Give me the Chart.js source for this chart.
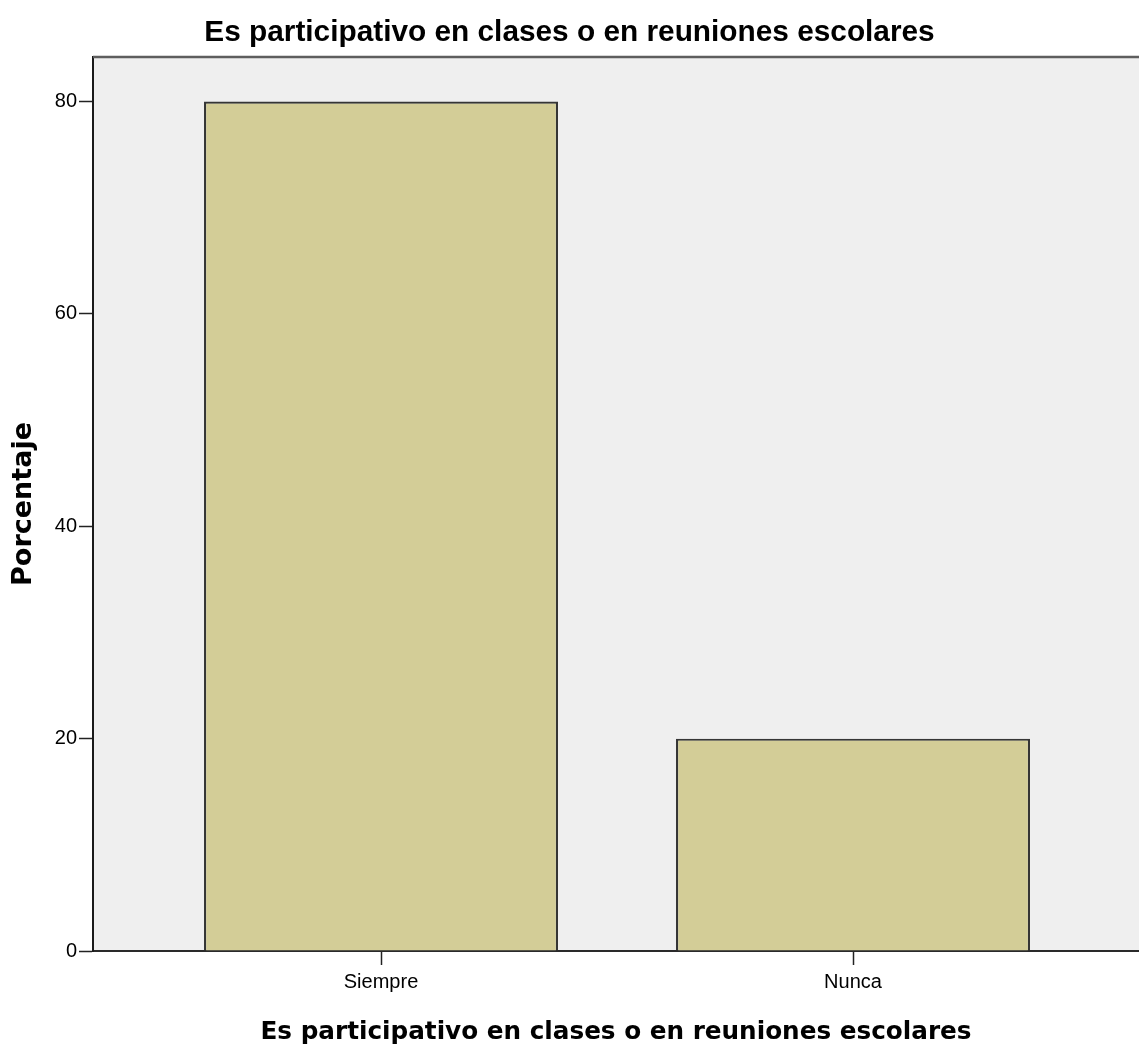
<!DOCTYPE html>
<html>
<head>
<meta charset="utf-8">
<script src="https://cdn.jsdelivr.net/npm/chart.js@4.4.1/dist/chart.umd.min.js"></script>
<style>
  html, body { margin: 0; padding: 0; background: #ffffff; }
  #wrap { width: 1139px; height: 1052px; }
</style>
</head>
<body>
<div id="wrap"><canvas id="c" width="1139" height="1052"></canvas></div>
<script>
// ---- data ----
const categories = ['Siempre', 'Nunca'];
const percentages = [80, 20];
const yTickValues = [0, 20, 40, 60, 80];
const chartTitle = 'Es participativo en clases o en reuniones escolares';
const xAxisTitle = 'Es participativo en clases o en reuniones escolares';
const yAxisTitle = 'Porcentaje';

// ---- font detection for condensed tick labels ----
function fontAvailable(name) {
  const c = document.createElement('canvas').getContext('2d');
  const s = 'abcdefghijklmnopqrstuvwxyz0123456789';
  c.font = '72px monospace';
  const w1 = c.measureText(s).width;
  c.font = '72px "' + name + '", monospace';
  const w2 = c.measureText(s).width;
  return Math.abs(w1 - w2) > 0.5;
}
const narrow = fontAvailable('Liberation Sans Narrow');
const tickFont = narrow
  ? { family: '"Liberation Sans Narrow"', size: 22 }
  : { family: '"Liberation Sans", Arial, sans-serif', size: 20 };

const bgUnder = {
  id: 'bgUnder',
  beforeDraw(chart) {
    const { ctx, chartArea: a } = chart;
    ctx.save();
    ctx.fillStyle = '#efefef';
    ctx.fillRect(a.left, a.top, a.right - a.left, a.bottom - a.top);
    ctx.restore();
  },
  afterDraw(chart) {
    const { ctx, chartArea: a } = chart;
    ctx.save();
    ctx.strokeStyle = '#5e5e5e';
    ctx.lineWidth = 2.5;
    ctx.beginPath();
    ctx.moveTo(a.left, a.top);
    ctx.lineTo(chart.width, a.top);
    ctx.stroke();
    ctx.restore();
  }
};

new Chart(document.getElementById('c'), {
  type: 'bar',
  data: {
    datasets: [{
      data: categories.map((c, i) => ({ x: i, y: percentages[i] })),
      backgroundColor: '#d3cd97',
      borderColor: '#353535',
      borderWidth: 2.2,
      categoryPercentage: 1.0,
      barPercentage: 0.75
    }]
  },
  options: {
    responsive: false,
    devicePixelRatio: 1,
    animation: false,
    layout: { padding: 0 },
    plugins: {
      legend: { display: false },
      tooltip: { enabled: false },
      title: {
        display: true,
        text: chartTitle,
        color: '#000',
        font: { family: '"Liberation Sans", Arial, sans-serif', size: 29.8, weight: 'bold' },
        padding: { top: 15, bottom: 6.2 }
      }
    },
    scales: {
      x: {
        type: 'linear',
        offset: false,
        min: -0.6102,
        max: 1.6059,
        afterBuildTicks(scale) { scale.ticks = categories.map((c, i) => ({ value: i })); },
        afterFit(scale) { scale.height = 101; },
        ticks: {
          color: '#000',
          font: tickFont,
          padding: 5,
          maxRotation: 0,
          autoSkip: false,
          callback: (v) => categories[v]
        },
        grid: {
          display: true,
          offset: false,
          drawOnChartArea: false,
          drawTicks: true,
          tickLength: 14,
          tickColor: '#222',
          tickWidth: 1.5
        },
        border: { display: true, color: '#2a2a2a', width: 2 },
        title: {
          display: true,
          text: xAxisTitle,
          color: '#000',
          font: { family: '"DejaVu Sans", sans-serif', size: 24.7, weight: 'bold' },
          padding: { top: 0, bottom: 5 }
        }
      },
      y: {
        min: 0,
        max: 84.2,
        afterBuildTicks(scale) { scale.ticks = yTickValues.map(v => ({ value: v })); },
        afterFit(scale) { scale.width = 93; },
        ticks: {
          color: '#000',
          font: tickFont,
          padding: 2
        },
        grid: {
          display: true,
          drawOnChartArea: false,
          drawTicks: true,
          tickLength: 14,
          tickColor: '#222',
          tickWidth: 1.5
        },
        border: { display: true, color: '#1a1a1a', width: 2 },
        title: {
          display: true,
          text: yAxisTitle,
          color: '#000',
          font: { family: '"DejaVu Sans", sans-serif', size: 27, weight: 'bold' },
          padding: { top: 8, bottom: 0 }
        }
      }
    }
  },
  plugins: [bgUnder]
});
</script>
</body>
</html>
